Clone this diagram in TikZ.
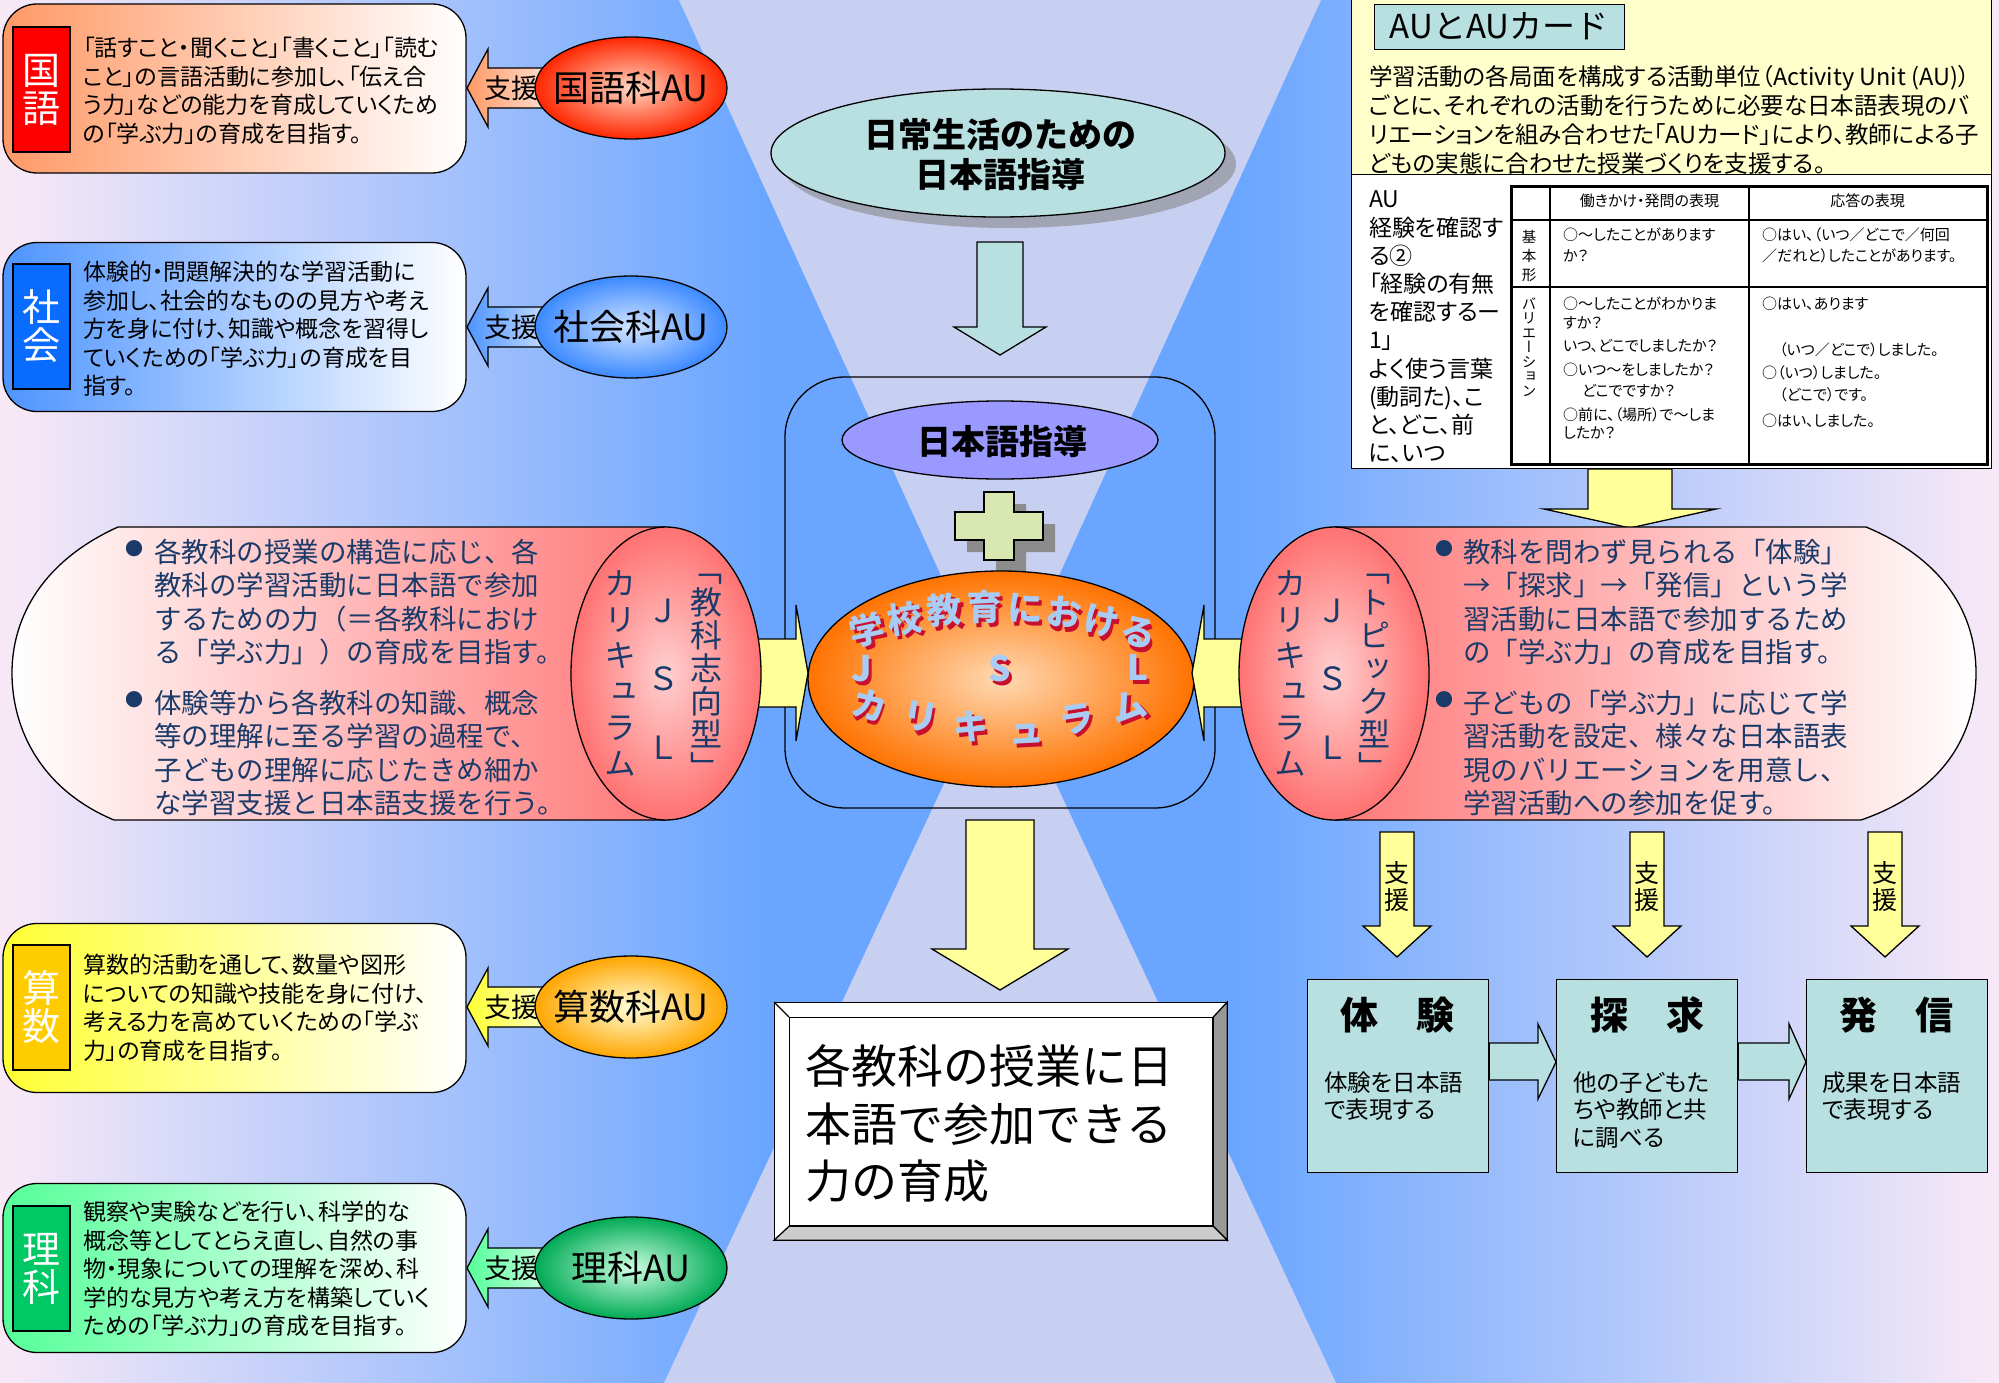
\documentclass[tikz,border=0pt]{standalone}
\usepackage{fontspec}
\usetikzlibrary{shapes.geometric}
\setmainfont{Noto Sans CJK JP}
\newfontfamily\jp{Noto Sans CJK JP}
\newfontfamily\jpp{Noto Sans CJK JP}[RawFeature=+palt]
\newfontfamily\jpv{Noto Sans CJK JP}[RawFeature=+vert]
\newcommand\fs[2]{\fontsize{#1}{#2}\selectfont}
\newcommand\vs{\rule[-.12em]{0pt}{1em}}
\newcommand\fl{\rule{0pt}{.88em}}
\newcommand\wach[1]{\makebox[0pt][l]{\hspace{3pt}\raisebox{-4pt}{\color{wared}#1}}#1}
\definecolor{bgblue}{HTML}{6AA6FF}
\definecolor{bgpink}{HTML}{F9E9F7}
\definecolor{hour}{HTML}{C8D0F2}
\definecolor{teal}{HTML}{B8E0E0}
\definecolor{lav}{HTML}{9999FF}
\definecolor{plusg}{HTML}{D8E8B0}
\definecolor{yel}{HTML}{FFFF99}
\definecolor{navy}{HTML}{1A3A6A}
\definecolor{cylred}{HTML}{FF7878}
\definecolor{aucard}{HTML}{FFFFCC}
\definecolor{wablue}{HTML}{A8CCF4}
\definecolor{wared}{HTML}{C8102E}
\definecolor{kred}{HTML}{FF0000}
\definecolor{sblue}{HTML}{0A6CFF}
\definecolor{myel}{HTML}{FFCC00}
\definecolor{rgreen}{HTML}{00C864}
\definecolor{kbox}{HTML}{FF9966}
\definecolor{sbox}{HTML}{4D94FF}
\definecolor{mbox}{HTML}{FFFF33}
\definecolor{rbox}{HTML}{55FF99}
\begin{document}
\begin{tikzpicture}[x=1pt,y=-1pt,
  para/.style={inner sep=0pt, anchor=north west, align=left},
  lin/.style={inner sep=0pt, anchor=west, text height=.88em, text depth=.12em},
  ctext/.style={inner sep=0pt, align=center},
  ol/.style={draw=black, line width=1.3pt},
  subjbox/.style={ol, rounded corners=34, minimum width=463, minimum height=169, inner sep=0},
  lbl/.style={ol, minimum width=57, minimum height=125, inner sep=0},
  lbltxt/.style={ctext, text=white, font=\jp\fs{38}{38}},
  auell/.style={ol, ellipse, minimum width=192, minimum height=102, inner sep=0},
  autxt/.style={ctext, font=\jp\fs{36}{36}},
  shientxt/.style={ctext, font=\jp\fs{27}{27}},
  boxtxt/.style={para, font=\jpp\fs{23}{28.5}},
  cyltxt/.style={para, font=\jp\fs{27.5}{33.3}, text=navy},
  bul/.style={inner sep=0pt, text=navy, font=\jp\fs{18}{18}, text height=.88em, text depth=.12em},
  cylv/.style={ctext, text=navy},
  wfr/.style={inner sep=0pt, text height=.8em, text depth=.05em, font=\jp\bfseries\fs{35}{35}, text=wablue},
  tbl/.style={lin, font=\jpp\fs{15}{15}},
  stepbx/.style={ol, fill=teal, minimum width=181, minimum height=193, inner sep=0, anchor=north west},
]
\useasboundingbox (0,0) rectangle (1999,1383);
% background
\shade[left color=bgpink, right color=bgblue] (0,0) rectangle (760,1383);
\fill[bgblue] (759,0) rectangle (1241,1383);
\shade[left color=bgblue, right color=bgpink] (1240,0) rectangle (1999,1383);
\fill[hour] (679,0) -- (1321,0) -- (1000,705) -- cycle;
\fill[hour] (1000,664) -- (1336,1383) -- (664,1383) -- cycle;

% ================= left subject column
% 国語
\node[subjbox, left color=kbox, right color=white] (kbox) at (234.5,88.5) {};
\node[lbl, fill=kred] (klbl) at (41.5,89.5) {};
\node[lbltxt] (klblt) at (41.5,89.5) {\vs 国\\\vs 語};
\node[boxtxt] (ktxt) at (83,36.5) {\fl「話すこと・聞くこと」「書くこと」「読む\\こと」の言語活動に参加し、「伝え合\\う力」などの能力を育成していくため\\の「学ぶ力」の育成を目指す。};
\shadedraw[ol, left color=kbox, right color=kbox!20] (467,88) -- (488,49) -- (488,68) -- (562,68) -- (562,108) -- (488,108) -- (488,127) -- cycle;
\node[shientxt] (kshien) at (511,88) {支援};
\node[auell, inner color=kbox!40, outer color=kred!70!orange] (kau) at (631,88) {};
\node[autxt] (kaut) at (631,88) {国語科AU};

% 社会
\node[subjbox, left color=sbox, right color=white] (sbox) at (234.5,327) {};
\node[lbl, fill=sblue] (slbl) at (41.5,326.5) {};
\node[lbltxt] (slblt) at (41.5,326.5) {\vs 社\\\vs 会};
\node[boxtxt] (stxt) at (83,260.5) {\fl 体験的・問題解決的な学習活動に\\参加し、社会的なものの見方や考え\\方を身に付け、知識や概念を習得し\\ていくための「学ぶ力」の育成を目\\指す。};
\shadedraw[ol, left color=sbox, right color=sbox!20] (467,327) -- (488,288) -- (488,307) -- (562,307) -- (562,347) -- (488,347) -- (488,366) -- cycle;
\node[shientxt] (sshien) at (511,327) {支援};
\node[auell, inner color=sbox!25, outer color=sblue!80] (sau) at (631,327) {};
\node[autxt] (saut) at (631,327) {社会科AU};

% 算数
\node[subjbox, left color=mbox, right color=white] (mbox) at (234.5,1008) {};
\node[lbl, fill=myel] (mlbl) at (41.5,1007.5) {};
\node[lbltxt] (mlblt) at (41.5,1007.5) {\vs 算\\\vs 数};
\node[boxtxt] (mtxt) at (83,953.5) {\fl 算数的活動を通して、数量や図形\\についての知識や技能を身に付け、\\考える力を高めていくための「学ぶ\\力」の育成を目指す。};
\shadedraw[ol, left color=mbox, right color=mbox!20] (467,1007) -- (488,968) -- (488,987) -- (562,987) -- (562,1027) -- (488,1027) -- (488,1046) -- cycle;
\node[shientxt] (mshien) at (511,1007) {支援};
\node[auell, inner color=white!85!yellow, outer color=orange!70!yellow] (mau) at (631,1007) {};
\node[autxt] (maut) at (631,1007) {算数科AU};

% 理科
\node[subjbox, left color=rbox, right color=white] (rbox) at (234.5,1268) {};
\node[lbl, fill=rgreen] (rlbl) at (41.5,1268.5) {};
\node[lbltxt] (rlblt) at (41.5,1268.5) {\vs 理\\\vs 科};
\node[boxtxt] (rtxt) at (83,1200.5) {\fl 観察や実験などを行い、科学的な\\概念等としてとらえ直し、自然の事\\物・現象についての理解を深め、科\\学的な見方や考え方を構築していく\\ための「学ぶ力」の育成を目指す。};
\shadedraw[ol, left color=rbox, right color=rbox!20] (467,1268) -- (488,1229) -- (488,1248) -- (562,1248) -- (562,1288) -- (488,1288) -- (488,1307) -- cycle;
\node[shientxt] (rshien) at (511,1268) {支援};
\node[auell, inner color=rbox!30, outer color=rgreen!85!black] (rau) at (631,1268) {};
\node[autxt] (raut) at (631,1268) {理科AU};

% ================= center column
\node[ellipse, fill=gray!55!hour, minimum width=454, minimum height=128, inner sep=0] (dshadow) at (1009,164) {};
\node[ol, ellipse, fill=teal, minimum width=454, minimum height=128, inner sep=0] (daily) at (998,153) {};
\node[ctext, font=\jp\bfseries\fs{34}{40}] (dailyt) at (1000,155) {\vs 日常生活のための\\\vs 日本語指導};
\filldraw[ol, fill=teal] (977,242) -- (1023,242) -- (1023,327) -- (1046,327) -- (1000,355) -- (954,327) -- (977,327) -- cycle;

\node[ol, rounded corners=60, minimum width=430, minimum height=431, inner sep=0] (frame) at (1000,592.5) {};
\node[ol, ellipse, fill=lav, minimum width=316, minimum height=78, inner sep=0] (nihongo) at (1000,440) {};
\node[ctext, font=\jp\bfseries\fs{34}{34}] (nihongot) at (1002,442) {日本語指導};
\fill[gray!90] (996,504) -- (1026,504) -- (1026,524) -- (1055,524) -- (1055,552) -- (1026,552) -- (1026,572) -- (996,572) -- (996,552) -- (967,552) -- (967,524) -- (996,524) -- cycle;
\filldraw[ol, fill=plusg] (984,492) -- (1014,492) -- (1014,512) -- (1043,512) -- (1043,540) -- (1014,540) -- (1014,560) -- (984,560) -- (984,540) -- (955,540) -- (955,512) -- (984,512) -- cycle;
\node[ol, ellipse, inner color=white!70!orange, outer color=orange!90!red, minimum width=386, minimum height=216, inner sep=0] (jsl) at (1001,679) {};
\foreach \ch/\xx/\yy/\rr [count=\i] in {学/869/639/12, 校/906/628/8, 教/945/620/4, 育/985/616/1, に/1025/617/-2, お/1063/622/-6, け/1100/630/-10, る/1136/641/-14, J/862/678/0, S/1000/678/0, L/1138/677/0, カ/867/714/-15, リ/919/726/-9, キ/970/736/-4, ュ/1027/739/3, ラ/1078/728/9, ム/1131/715/15}
{
  \node[wfr, rotate=\rr] (wa\i) at (\xx,\yy) {\wach{\ch}};
}
% yellow side arrows
\filldraw[ol, fill=yel] (740,639) -- (796,639) -- (796,605) -- (808,673) -- (796,741) -- (796,707) -- (740,707) -- cycle;
\filldraw[ol, fill=yel] (1260,639) -- (1204,639) -- (1204,605) -- (1192,673) -- (1204,741) -- (1204,707) -- (1260,707) -- cycle;
% bottom arrow and box
\filldraw[ol, fill=yel] (966,820) -- (1034,820) -- (1034,949) -- (1068,949) -- (1000,990) -- (932,949) -- (966,949) -- cycle;
\node[ol, fill=white, minimum width=452, minimum height=237, inner sep=0, anchor=north west] (bbo) at (774,1002) {};
\node[ol, fill=white, minimum width=423, minimum height=208, inner sep=0, anchor=north west] (bbi) at (789,1017) {};
\filldraw[ol, fill=gray!80] (bbo.north east) -- (bbo.south east) -- (bbi.south east) -- (bbi.north east) -- cycle;
\filldraw[ol, fill=gray!40] (bbo.south west) -- (bbo.south east) -- (bbi.south east) -- (bbi.south west) -- cycle;
\draw[ol] (bbo.north west) -- (bbi.north west);
\node[para, font=\jp\fs{46}{57.5}] (bbt) at (805,1043) {\fl 各教科の授業に日\\本語で参加できる\\力の育成};

% ================= left cylinder
\shadedraw[ol, left color=white, right color=cylred] (666,527) -- (118,527) .. controls (45,560) and (12,615) .. (12,673) .. controls (12,730) and (42,790) .. (114,820) -- (666,820) -- cycle;
\node[ol, ellipse, inner color=cylred!35, outer color=cylred!95!red, minimum width=190, minimum height=293, inner sep=0] (lface) at (666,673.5) {};
\node[cylv, font=\jpv\fs{32}{33}] (lv1) at (706,668.5) {\vs 「\\\vs 教\\\vs 科\\\vs 志\\\vs 向\\\vs 型\\\vs 」};
\node[cylv, font=\jp\fs{32}{68.5}] (lv2) at (663,678.5) {\vs Ｊ\\\vs Ｓ\\\vs Ｌ};
\node[cylv, font=\jpv\fs{32}{36}] (lv3) at (620,673) {\vs カ\\\vs リ\\\vs キ\\\vs ュ\\\vs ラ\\\vs ム};
\node[bul] (lb1) at (134,552) {●};
\node[bul] (lb2) at (134,703) {●};
\node[cyltxt] (lp1) at (154,538.25) {\fl 各教科の授業の構造に応じ、各\\教科の学習活動に日本語で参加\\するための力（＝各教科におけ\\る「学ぶ力」）の育成を目指す。};
\node[cyltxt] (lp2) at (154,689.25) {\fl 体験等から各教科の知識、概念\\等の理解に至る学習の過程で、\\子どもの理解に応じたきめ細か\\な学習支援と日本語支援を行う。};

% ================= right cylinder
\filldraw[ol, fill=yel] (1588,469) -- (1672,469) -- (1672,509) -- (1716,509) -- (1630,528) -- (1544,509) -- (1588,509) -- cycle;
\shadedraw[ol, left color=cylred, right color=white] (1334,527) -- (1866,527) .. controls (1945,560) and (1976,615) .. (1976,673) .. controls (1976,730) and (1948,790) .. (1861,820) -- (1334,820) -- cycle;
\node[ol, ellipse, inner color=cylred!35, outer color=cylred!95!red, minimum width=190, minimum height=293, inner sep=0] (rface) at (1334,673.5) {};
\node[cylv, font=\jpv\fs{32}{33}] (rv1) at (1374,668.5) {\vs 「\\\vs ト\\\vs ピ\\\vs ッ\\\vs ク\\\vs 型\\\vs 」};
\node[cylv, font=\jp\fs{32}{68.5}] (rv2) at (1332,678.5) {\vs Ｊ\\\vs Ｓ\\\vs Ｌ};
\node[cylv, font=\jpv\fs{32}{36}] (rv3) at (1290,673) {\vs カ\\\vs リ\\\vs キ\\\vs ュ\\\vs ラ\\\vs ム};
\node[bul] (rb1) at (1444,552) {●};
\node[bul] (rb2) at (1444,703) {●};
\node[cyltxt] (rp1) at (1463,538.25) {\fl 教科を問わず見られる「体験」\\→「探求」→「発信」という学\\習活動に日本語で参加するため\\の「学ぶ力」の育成を目指す。};
\node[cyltxt] (rp2) at (1463,689.25) {\fl 子どもの「学ぶ力」に応じて学\\習活動を設定、様々な日本語表\\現のバリエーションを用意し、\\学習活動への参加を促す。};

% ================= AU card
\node[ol, fill=aucard, minimum width=640, minimum height=178, inner sep=0, anchor=north west] (aucard) at (1351,-4) {};
\node[ol, fill=teal, minimum width=250, minimum height=45, inner sep=0, anchor=north west] (autitle) at (1374,4) {};
\node[ctext, font=\jp\fs{33}{33}] (autitlet) at (1499,26.5) {AUとAUカード};
\node[para, font=\jpp\fs{23.5}{29}] (aupara) at (1369,64.25) {\fl 学習活動の各局面を構成する活動単位（Activity Unit (AU)）\\ごとに、それぞれの活動を行うために必要な日本語表現のバ\\リエーションを組み合わせた「AUカード」により、教師による子\\どもの実態に合わせた授業づくりを支援する。};
\node[ol, fill=white, minimum width=640, minimum height=294, inner sep=0, anchor=north west] (aupanel) at (1351,174) {};
\node[para, font=\jpp\fs{23}{28.2}] (aucol) at (1369,187.5) {\fl AU\\経験を確認す\\る②\\「経験の有無\\を確認するー\\1」\\よく使う言葉\\(動詞た)、こ\\と、どこ、前\\に、いつ};
\node[draw, line width=3pt, minimum width=476, minimum height=278, inner sep=0, anchor=north west] (autable) at (1510,185) {};
\draw[line width=1.5pt] (1550,185) -- (1550,463) (1749,185) -- (1749,463) (1510,220) -- (1986,220) (1510,287) -- (1986,287);
\node[tbl, anchor=center] (th1) at (1649.5,203) {働きかけ・発問の表現};
\node[tbl, anchor=center] (th2) at (1867.5,203) {応答の表現};
\node[ctext, font=\jpv\fs{14.5}{19}] (tv1) at (1529,256) {\vs 基\\\vs 本\\\vs 形};
\node[ctext, font=\jpv\fs{14.5}{14.5}] (tv2) at (1529,347) {\vs バ\\\vs リ\\\vs エ\\\vs ー\\\vs シ\\\vs ョ\\\vs ン};
\node[tbl] (t11) at (1563,237) {○～したことがあります};
\node[tbl] (t12) at (1563,258) {か？};
\node[tbl] (t13) at (1762,237) {○はい、（いつ／どこで／何回};
\node[tbl] (t14) at (1762,258) {／だれと）したことがあります。};
\node[tbl] (t21) at (1563,306) {○～したことがわかりま};
\node[tbl] (t22) at (1563,325) {すか？};
\node[tbl] (t23) at (1563,348) {いつ、どこでしましたか？};
\node[tbl] (t24) at (1563,372) {○いつ～をしましたか？};
\node[tbl] (t25) at (1582,393) {どこでですか？};
\node[tbl] (t26) at (1563,417) {○前に、（場所）で～しま};
\node[tbl] (t27) at (1563,435) {したか？};
\node[tbl] (t31) at (1762,306) {○はい、あります};
\node[tbl] (t32) at (1779,352) {（いつ／どこで）しました。};
\node[tbl] (t33) at (1762,375) {○（いつ）しました。};
\node[tbl] (t34) at (1779,397) {（どこで）です。};
\node[tbl] (t35) at (1762,423) {○はい、しました。};

% ================= right bottom: 体験 探求 発信
\foreach \cx [count=\i] in {1397,1647,1885}
{
  \filldraw[ol, fill=yel] (\cx-17,832) -- (\cx+17,832) -- (\cx+17,926) -- (\cx+34,926) -- (\cx,957) -- (\cx-34,926) -- (\cx-17,926) -- cycle;
  \node[ctext, font=\jp\fs{25}{27}] (shien\i) at (\cx,886.5) {\vs 支\\\vs 援};
}
\node[stepbx] (exp) at (1307,979) {};
\node[stepbx] (inq) at (1556,979) {};
\node[stepbx] (pub) at (1806,979) {};
\filldraw[ol, fill=teal] (exp.east |- 0,1043) -- (1538,1043) -- (1538,1024) -- (inq.west |- 0,1062) -- (1538,1099) -- (1538,1080) -- (exp.east |- 0,1080) -- cycle;
\filldraw[ol, fill=teal] (inq.east |- 0,1043) -- (1789,1043) -- (1789,1024) -- (pub.west |- 0,1062) -- (1789,1099) -- (1789,1080) -- (inq.east |- 0,1080) -- cycle;
\node[ctext, font=\jp\bfseries\fs{38}{38}] (expt) at (1397.5,1015) {体　験};
\node[ctext, font=\jp\bfseries\fs{38}{38}] (inqt) at (1647,1015) {探　求};
\node[ctext, font=\jp\bfseries\fs{38}{38}] (pubt) at (1896.5,1015) {発　信};
\node[para, font=\jpp\fs{23.5}{27.5}] (exps) at (1324,1070.25) {\fl 体験を日本語\\で表現する};
\node[para, font=\jpp\fs{23.5}{27.5}] (inqs) at (1573,1070.25) {\fl 他の子どもた\\ちや教師と共\\に調べる};
\node[para, font=\jpp\fs{23.5}{27.5}] (pubs) at (1822,1070.25) {\fl 成果を日本語\\で表現する};
\end{tikzpicture}
\end{document}
